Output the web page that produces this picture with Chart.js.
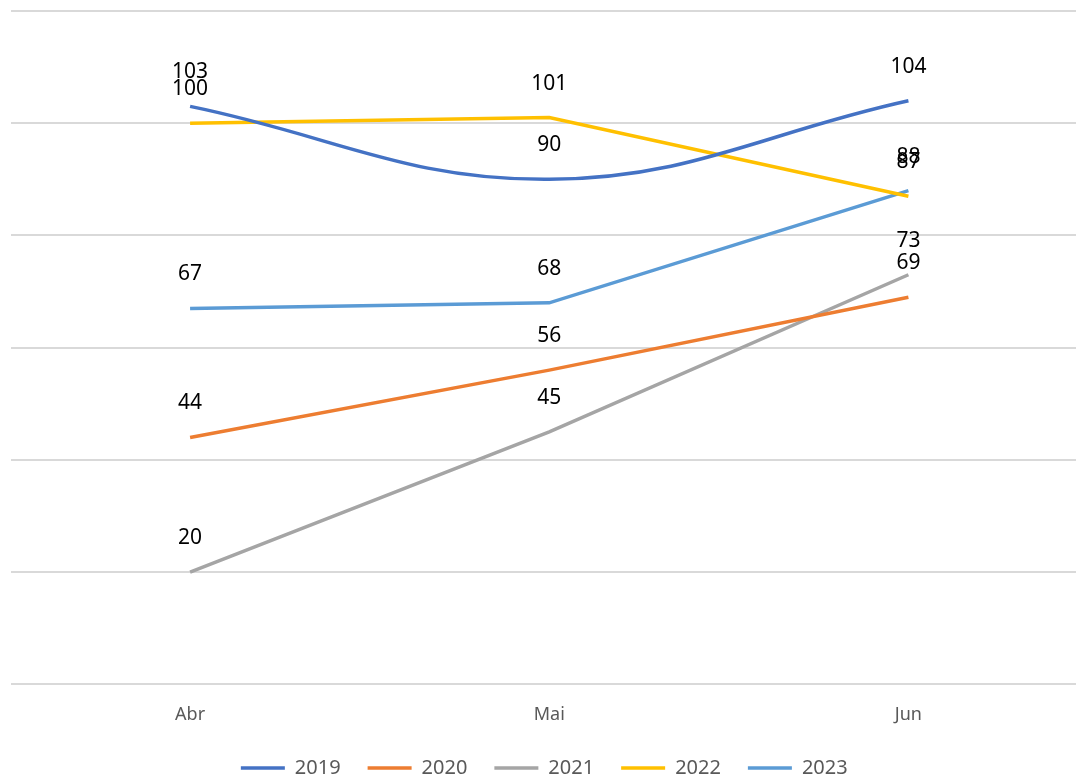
<!DOCTYPE html>
<html>
<head>
<meta charset="utf-8">
<script src="https://cdn.jsdelivr.net/npm/chart.js@4"></script>
<style>
  html, body { margin: 0; padding: 0; background: #fff; overflow: hidden; }
  #wrap { width: 1088px; height: 788px; }
</style>
</head>
<body>
<div id="wrap"><canvas id="chart"></canvas></div>
<script>
// Datos
const meses = ['Abr', 'Mai', 'Jun'];
const anos = ['2019', '2020', '2021', '2022', '2023'];
const v2019 = [103, 90, 104];
const v2020 = [44, 56, 69];
const v2021 = [20, 45, 73];
const v2022 = [100, 101, 87];
const v2023 = [67, 68, 88];
const cores = ['#4472C4', '#ED7D31', '#A5A5A5', '#FFC000', '#5B9BD5'];

const series = [v2019, v2020, v2021, v2022, v2023];
const fonte = '"Noto Sans", "Open Sans", sans-serif';

// Etiquetas de valor encima de cada punto
const valueLabels = {
    id: 'valueLabels',
    afterDatasetsDraw(chart) {
        const ctx = chart.ctx;
        ctx.save();
        ctx.font = '21px ' + fonte;
        ctx.fillStyle = '#000';
        ctx.textAlign = 'center';
        ctx.textBaseline = 'middle';
        chart.data.datasets.forEach((ds, i) => {
            const meta = chart.getDatasetMeta(i);
            meta.data.forEach((pt, j) => {
                ctx.fillText(String(ds.data[j]), pt.x, pt.y - 34);
            });
        });
        ctx.restore();
    }
};

const datasets = anos.map((ano, i) => ({
    label: ano,
    data: series[i],
    borderColor: cores[i],
    backgroundColor: cores[i],
    borderWidth: 3.5,
    pointRadius: 0,
    pointHoverRadius: 0,
    tension: i === 0 ? 0.4 : 0,
    fill: false
}));

new Chart(document.getElementById('chart'), {
    type: 'line',
    data: { labels: meses, datasets: datasets },
    plugins: [valueLabels],
    options: {
        responsive: true,
        maintainAspectRatio: false,
        animation: false,
        layout: { padding: { left: 10.5, right: 0, top: 11, bottom: 0 } },
        plugins: {
            tooltip: { enabled: false },
            legend: {
                position: 'bottom',
                labels: {
                    usePointStyle: true,
                    pointStyle: 'line',
                    pointStyleWidth: 44,
                    boxHeight: 3,
                    padding: 17,
                    color: '#595959',
                    font: { family: fonte, size: 20 },
                    // espacio extra tras cada año para separar las entradas
                    generateLabels(chart) {
                        const items = Chart.defaults.plugins.legend.labels.generateLabels(chart);
                        items.forEach(it => { it.text = it.text + '\u2002'; });
                        return items;
                    }
                }
            }
        },
        scales: {
            x: {
                offset: true,
                grid: { display: false },
                border: { display: false },
                ticks: {
                    color: '#595959',
                    padding: 12,
                    font: { family: fonte, size: 18 }
                },
                afterFit(scale) { scale.height += 3; }
            },
            y: {
                min: 0,
                max: 120,
                ticks: { display: false, stepSize: 20 },
                grid: { color: '#d9d9d9', lineWidth: 2, drawTicks: false },
                border: { display: false }
            }
        }
    }
});
</script>
</body>
</html>
